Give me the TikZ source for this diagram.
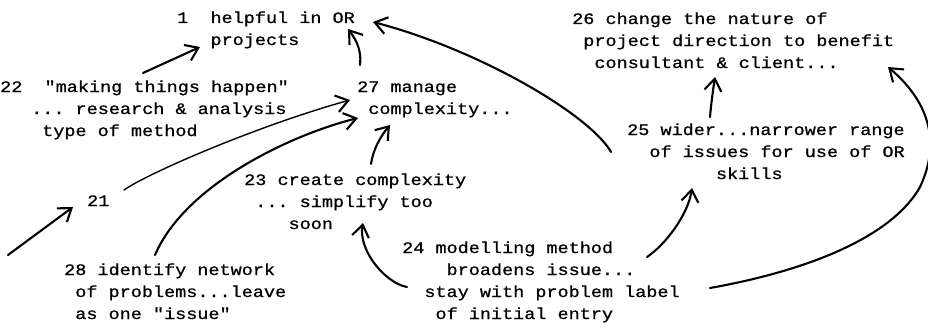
\documentclass[tikz,border=0pt]{standalone}
\usepackage{fontspec}
\newfontfamily\tw[FakeStretch=1.156,FakeBold=0.8]{Liberation Mono}
\usetikzlibrary{arrows.meta}
\begin{document}
\frenchspacing
\begin{tikzpicture}[x=1pt,y=-1pt,
  lbl/.style={anchor=base west, align=left, inner sep=0pt,
    font=\tw\fontsize{16}{22}\selectfont},
  arr/.style={line width=2.1pt, line cap=round, line join=round,
    -{Straight Barb[length=12pt,width=17pt,line width=2.1pt]}},
  thinarr/.style={arr, line width=1.4pt}]
\useasboundingbox (0,0) rectangle (928,329);

% nodes placed at the baseline of their LAST line
\node[lbl] (n1)  at (177,45)  {1\ \ helpful in OR\\\phantom{xxx}projects};
\node[lbl] (n22) at (0,136)   {22\ \ "making things happen"\\\hspace*{31pt}... research \& analysis\\\hspace*{42pt}type of method};
\node[lbl] (n27) at (357,114) {27 manage\\\phantom{x}complexity...};
\node[lbl] (n23) at (244,229) {23 create complexity\\\phantom{x}... simplify too\\\phantom{xxxx}soon};
\node[lbl] (n21) at (87,206)  {21};
\node[lbl] (n28) at (64,319)  {28 identify network\\\phantom{x}of problems...leave\\\phantom{x}as one "issue"};
\node[lbl] (n24) at (402,319) {24 modelling method\\\phantom{xxxx}broadens issue...\\\phantom{xx}stay with problem label\\\phantom{xxx}of initial entry};
\node[lbl] (n25) at (627,179) {25 wider...narrower range\\\phantom{xx}of issues for use of OR\\\phantom{xxxxxxxx}skills};
\node[lbl] (n26) at (572,68)  {26 change the nature of\\\phantom{x}project direction to benefit\\\phantom{xx}consultant \& client...};

\coordinate (c21) at (8,255);

% 22 -> 1
\draw[arr] ([shift={(143,-63)}]n22.base west) -- ([shift={(23,2)}]n1.base west);
% 27 -> 1
\draw[arr] ([shift={(3,-49)}]n27.base west) .. controls (362,48) and (354,37) .. ([shift={(171,-16)}]n1.base west);
% 25 -> 1
\draw[arr] ([shift={(-16,-27)}]n25.base west) .. controls (590,115) and (480,50) .. ([shift={(196,-23)}]n1.base west);
% 21 -> 27
\draw[thinarr] ([shift={(37,-16)}]n21.base west) .. controls (150,172) and (260,125) .. ([shift={(-7,-14)}]n27.base west);
% 28 -> 27
\draw[arr] ([shift={(91,-64)}]n28.base west) .. controls (185,185) and (290,135) .. ([shift={(1,4)}]n27.base west);
% 23 -> 27
\draw[arr] ([shift={(127,-65)}]n23.base west) .. controls (373,150) and (380,137) .. ([shift={(33,11)}]n27.base west);
% free -> 21
\draw[arr] (c21) -- ([shift={(-14,1)}]n21.base west);
% 24 -> 23
\draw[arr] ([shift={(5,-32)}]n24.base west) .. controls (385,283) and (358,250) .. ([shift={(119,-6)}]n23.base west);
% 24 -> 25
\draw[arr] ([shift={(245,-62)}]n24.base west) .. controls (665,245) and (688,215) .. ([shift={(65,9)}]n25.base west);
% 24 -> 26
\draw[arr] ([shift={(308,-31)}]n24.base west) .. controls (800,272) and (890,240) .. (920,187) .. controls (942,140) and (927,100) .. ([shift={(316,-1)}]n26.base west);
% 25 -> 26
\draw[arr] ([shift={(83,-62)}]n25.base west) .. controls (711,105) and (713,90) .. ([shift={(143,9)}]n26.base west);
\end{tikzpicture}
\end{document}
